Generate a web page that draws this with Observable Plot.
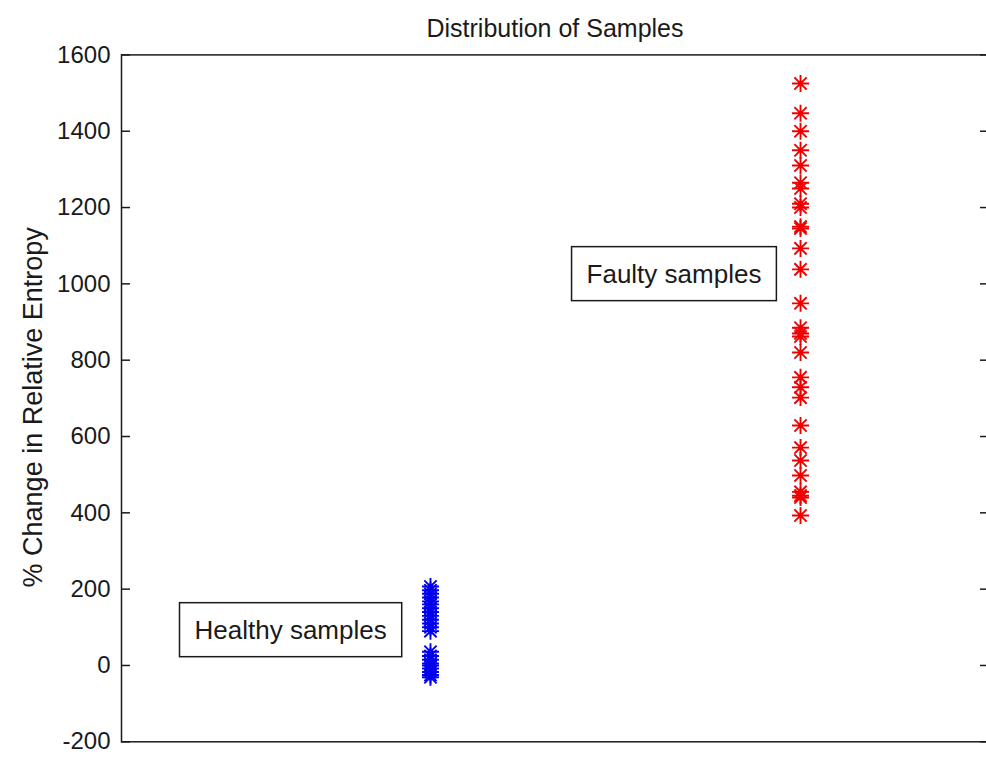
<!DOCTYPE html>
<html>
<head>
<meta charset="utf-8">
<script src="https://cdn.jsdelivr.net/npm/d3@7"></script>
<script src="https://cdn.jsdelivr.net/npm/@observablehq/plot@0.6"></script>
<style>
  html, body { margin: 0; padding: 0; background: #fff; overflow: hidden; }
  #chart { width: 986px; height: 757px; overflow: hidden; }
  svg { font-family: "Liberation Sans", Arial, sans-serif; }
</style>
</head>
<body>
<div id="chart"></div>
<script>
// % change in relative entropy per sample
const healthyValues = [207, 197, 188, 178, 168, 160, 150, 140, 130, 120, 110, 100, 90,
                       36, 25, 15, 5, 0, -8, -17, -25, -31];
const faultyValues = [1525, 1447, 1400, 1350, 1310, 1265, 1250, 1210, 1200, 1150, 1145,
                      1093, 1038, 949, 885, 870, 862, 820, 755, 729, 702, 629, 571,
                      537, 498, 455, 445, 440, 393];
const healthyX = 1;
const faultyX = 2;
const yTicks = [-200, 0, 200, 400, 600, 800, 1000, 1200, 1400, 1600];
const titleText = "Distribution of Samples";
const yLabel = "% Change in Relative Entropy";
const notes = [
  {text: "Healthy samples", x: 0.622, y: 92},
  {text: "Faulty samples", x: 1.658, y: 1025}
];

const samples = [
  ...healthyValues.map(v => ({x: healthyX, y: v, group: "healthy"})),
  ...faultyValues.map(v => ({x: faultyX, y: v, group: "faulty"}))
];

// eight-spoke asterisk marker
const asterisk = {
  draw(ctx, size) {
    const r = Math.sqrt(size / Math.PI);
    const d = r * 0.72;
    ctx.moveTo(-r, 0); ctx.lineTo(r, 0);
    ctx.moveTo(0, -r); ctx.lineTo(0, r);
    ctx.moveTo(-d, -d); ctx.lineTo(d, d);
    ctx.moveTo(-d, d); ctx.lineTo(d, -d);
  }
};

const ink = "#1a1a1a";
const fs = 24;

const chart = Plot.plot({
  width: 986,
  height: 757,
  marginLeft: 121,
  marginRight: -2,
  marginTop: 54.4,
  marginBottom: 15.7,
  style: {background: "#fff", color: ink, fontSize: fs + "px", overflow: "hidden"},
  x: {domain: [0.165, 2.508], axis: null},
  y: {domain: [-200, 1600], axis: null},
  color: {domain: ["healthy", "faulty"], range: ["#0000ee", "#ee0000"]},
  marks: [
    Plot.frame({stroke: ink, strokeWidth: 1.5}),
    Plot.axisY({anchor: "left", ticks: yTicks, tickSize: 0, tickPadding: 11,
                tickFormat: d => String(d), fontSize: fs, label: null, fill: ink}),
    Plot.axisY({anchor: "left", ticks: yTicks, tickSize: -9, tickFormat: () => "",
                label: null, stroke: ink, strokeWidth: 1.5}),
    Plot.axisY({anchor: "right", ticks: yTicks, tickSize: -9, tickFormat: () => "",
                label: null, stroke: ink, strokeWidth: 1.5}),
    Plot.dot(samples, {x: "x", y: "y", symbol: asterisk, r: 8.5, fill: "none",
                       stroke: "group", strokeWidth: 1.9}),
    Plot.text(notes, {x: "x", y: "y", text: "text", fontSize: 26, fill: ink,
                      textAnchor: "middle", lineAnchor: "middle"}),
    Plot.text([titleText], {frameAnchor: "top", dy: -36, fontSize: 25, fill: ink}),
    Plot.text([yLabel], {frameAnchor: "left", textAnchor: "middle", lineAnchor: "middle",
                         rotate: -90, dx: -88, dy: 9, fontSize: 27, fill: ink})
  ]
});

document.getElementById("chart").append(chart);

// boxed annotations: white box with a black border around each note
const noteTexts = new Set(notes.map(n => n.text));
d3.select(chart).selectAll("text").each(function() {
  if (!noteTexts.has(this.textContent)) return;
  const bb = this.getBBox();
  const padX = 15, padY = 12;
  const rect = document.createElementNS("http://www.w3.org/2000/svg", "rect");
  rect.setAttribute("x", bb.x - padX);
  rect.setAttribute("y", bb.y - padY);
  rect.setAttribute("width", bb.width + 2 * padX);
  rect.setAttribute("height", bb.height + 2 * padY);
  rect.setAttribute("fill", "#fff");
  rect.setAttribute("stroke", ink);
  rect.setAttribute("stroke-width", 1.5);
  const t = this.getAttribute("transform");
  if (t) rect.setAttribute("transform", t);
  this.parentNode.insertBefore(rect, this);
});
</script>
</body>
</html>
